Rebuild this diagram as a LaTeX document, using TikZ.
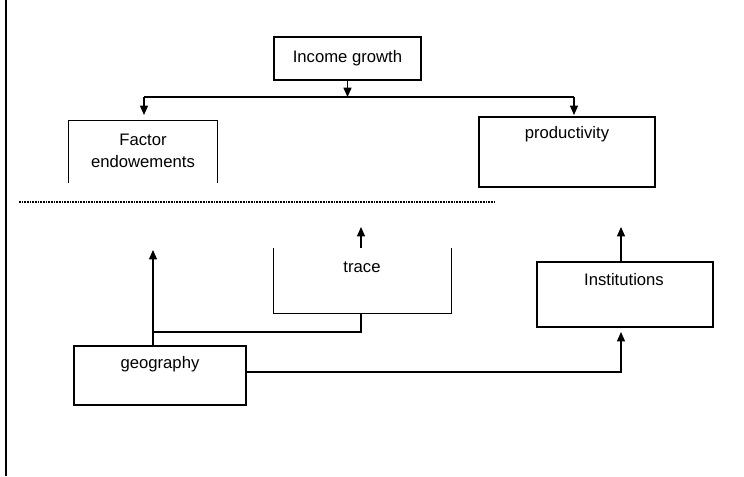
\documentclass[tikz,border=0pt]{standalone}
\usepackage{fontspec}
\setmainfont{Liberation Sans}
\usetikzlibrary{arrows.meta}

\begin{document}
\begin{tikzpicture}
      [x=0.75pt, y=-0.75pt,
        box/.style={draw, line width=1pt, inner sep=0pt},
        hollow/.style={inner sep=0pt},
        txt/.style={font=\fontsize{12.5}{16.5}\selectfont, align=center, inner sep=0pt},
        tip/.style={-{Triangle[length=7pt,width=6pt]}, line width=1pt},
        wire/.style={line width=1pt}]
      \useasboundingbox (0,0) rectangle (744,476);
      \draw[line width=1pt] (6,0) -- (6,476);
      % boxes
      \node[box, minimum width=110.25pt, minimum height=32.25pt, txt] (income) at (347.5,58.5) {Income growth};
      \node[hollow, minimum width=111pt, minimum height=46.5pt] (factor) at (143,152) {};
      \node[box, minimum width=132pt, minimum height=52.5pt] (prod) at (567,152) {};
      \node[hollow, minimum width=132.75pt, minimum height=48.75pt] (trade) at (362.5,280.5) {};
      \node[box, minimum width=132pt, minimum height=48.75pt] (inst) at (625,294.5) {};
      \node[box, minimum width=129pt, minimum height=44.25pt] (geo) at (160,375.5) {};
      \draw[wire] (factor.south west) -- (factor.north west) -- (factor.north east) -- (factor.south east);
      \draw[wire] (trade.north west) -- (trade.south west) -- (trade.south east) -- (trade.north east);
      % labels
      \node[txt] (factortext) at (143,151) {Factor\\endowements};
      \node[txt] (prodtext) at (567,134) {productivity};
      \node[txt] (tradetext) at (362,267) {trace};
      \node[txt] (insttext) at (624,280) {Institutions};
      \node[txt] (geotext) at (160,364) {geography};
      % top connectors
      \coordinate (hl) at (144,97);
      \coordinate (hr) at (574,97);
      \draw[wire] (hl) -- (hr);
      \draw[tip] (income.south) -- (income.south |- hl);
      \draw[tip] (hl) -- ++(0,18);
      \draw[tip] (hr) -- ++(0,18);
      \draw[line width=1.3pt, dash pattern=on 1.3pt off 0.7pt] (19,202) -- (496,202);
      % bottom connectors
      \coordinate (gx) at (153,332);
      \draw[tip] (trade.north -| 361,0) -- (361,227);
      \draw[tip] (inst.north -| 621,0) -- (621,227);
      \draw[wire] (trade.south -| 361,0) |- (gx);
      \draw[tip] (gx |- geo.north) -- (153,250);
      \draw[tip] (geo.east |- 0,372) -| (621,332);
\end{tikzpicture}
\end{document}
